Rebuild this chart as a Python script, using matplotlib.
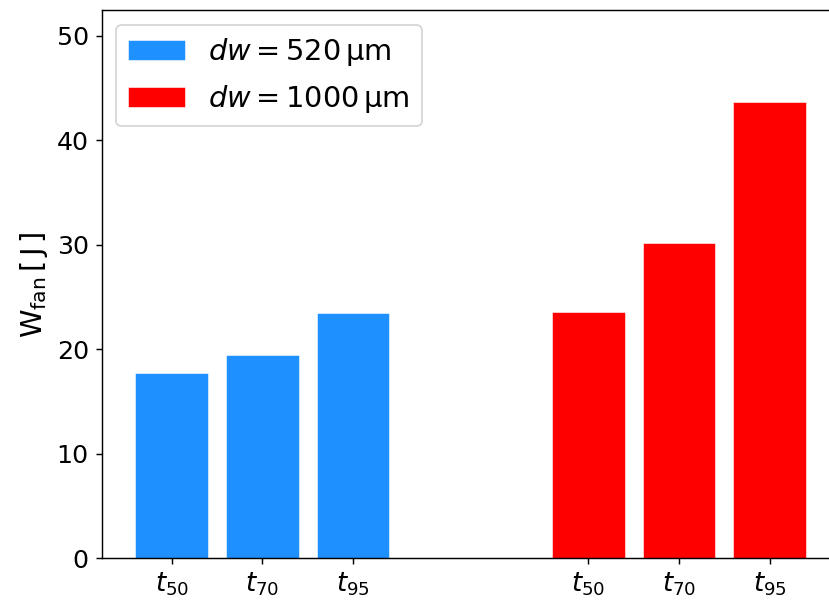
import matplotlib
matplotlib.use("Agg")
import matplotlib.pyplot as plt
import numpy as np

# Fan work for each characteristic time, for two wire diameters
tick_labels = [r"$t_{50}$", r"$t_{70}$", r"$t_{95}$"]
work_520 = [17.7, 19.5, 23.5]
work_1000 = [23.6, 30.2, 43.7]
label_520 = r"$dw = 520\,$µm"
label_1000 = r"$dw = 1000\,$µm"

plt.rcParams["font.size"] = 14

W, H, DPI = 829, 603, 130
fig = plt.figure(figsize=(W / DPI, H / DPI), dpi=DPI)
ax = fig.add_axes([101.5 / W, (H - 558.3) / H,
                   (834 - 101.5) / W, (558.3 - 10.3) / H])

x_520 = np.arange(len(work_520))
x_1000 = x_520 + 4.6

ax.bar(x_520, work_520, width=0.8, color="#1e90ff", edgecolor="white",
       linewidth=0.3, label=label_520)
ax.bar(x_1000, work_1000, width=0.8, color="#ff0000", edgecolor="white",
       linewidth=0.3, label=label_1000)

ax.set_xticks(np.concatenate([x_520, x_1000]))
ax.set_xticklabels(tick_labels + tick_labels, fontsize=14.5)
ax.set_xlim(-0.775, (834 - 171.7) / 90.6)
ax.set_ylim(0, 52.45)
ax.set_yticks([0, 10, 20, 30, 40, 50])
ax.set_ylabel(r"$\mathrm{W_{fan}\,[\,J\,]}$", fontsize=16)

ax.legend(loc="upper left", fontsize=16)

fig.savefig("out.png", dpi=DPI)
